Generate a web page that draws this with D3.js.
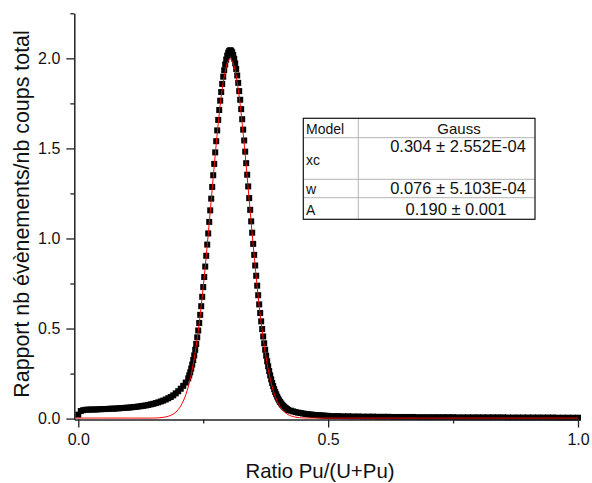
<!DOCTYPE html>
<html>
<head>
<meta charset="utf-8">
<script src="https://cdn.jsdelivr.net/npm/d3@7/dist/d3.min.js"></script>
<style>
  html, body { margin: 0; padding: 0; background: #fff; }
  svg { display: block; font-family: "Liberation Sans", Arial, sans-serif; }
</style>
</head>
<body>
<svg id="chart" width="592" height="483"></svg>
<script>
// ---------- data ----------
const dataX = [
  0.000,0.005,0.010,0.015,0.020,0.025,0.030,0.035,0.040,0.045,0.050,0.055,0.060,0.065,0.070,0.075,0.080,0.085,0.090,0.095,
  0.100,0.105,0.110,0.115,0.120,0.125,0.130,0.135,0.140,0.145,0.150,0.155,0.160,0.165,0.170,0.175,0.180,0.185,0.190,0.195,
  0.200,0.205,0.210,0.215,
  0.220,0.222,0.224,0.226,0.228,0.230,0.232,0.234,0.236,0.238,0.240,0.242,0.244,0.246,0.248,0.250,0.252,0.254,0.256,0.258,
  0.260,0.262,0.264,0.266,0.268,0.270,0.272,0.274,0.276,0.278,0.280,0.282,0.284,0.286,0.288,0.290,0.292,0.294,0.296,0.298,
  0.300,0.302,0.304,0.306,0.308,0.310,0.312,0.314,0.316,0.318,0.320,0.322,0.324,0.326,0.328,0.330,0.332,0.334,0.336,0.338,
  0.340,0.342,0.344,0.346,0.348,0.350,0.352,0.354,0.356,0.358,0.360,0.362,0.364,0.366,0.368,0.370,0.372,0.374,0.376,0.378,
  0.380,0.382,0.384,0.386,0.388,0.390,0.392,0.394,0.396,0.398,0.400,0.402,0.404,0.406,0.408,0.410,0.412,0.414,0.416,0.418,
  0.420,
  0.425,0.430,0.435,0.440,0.445,0.450,0.455,0.460,0.465,0.470,0.475,0.480,0.485,0.490,0.495,0.500,
  0.51,0.52,0.53,0.54,0.55,0.56,0.57,0.58,0.59,0.60,0.61,0.62,0.63,0.64,0.65,0.66,0.67,0.68,0.69,0.70,
  0.71,0.72,0.73,0.74,0.75,0.76,0.77,0.78,0.79,0.80,0.81,0.82,0.83,0.84,0.85,0.86,0.87,0.88,0.89,0.90,
  0.91,0.92,0.93,0.94,0.95,0.96,0.97,0.98,0.99,1.00
];
const dataY = [
  0.022,0.042,0.047,0.049,0.050,0.050,0.051,0.050,0.052,0.052,0.053,0.053,0.054,0.055,0.055,0.056,0.057,0.058,0.059,0.060,
  0.061,0.062,0.064,0.065,0.067,0.069,0.071,0.073,0.076,0.079,0.082,0.086,0.090,0.095,0.100,0.106,0.113,0.120,0.129,0.140,
  0.152,0.166,0.182,0.200,
  0.223,0.240,0.257,0.278,0.300,0.325,0.351,0.382,0.414,0.451,0.489,0.531,0.576,0.624,0.676,0.730,0.786,0.844,0.904,0.966,
  1.028,1.092,1.156,1.221,1.286,1.351,1.414,1.478,1.540,1.600,1.658,1.713,1.765,1.813,1.858,1.898,1.934,1.966,1.993,2.015,
  2.031,2.041,2.045,2.042,2.033,2.018,1.998,1.972,1.941,1.905,1.864,1.818,1.770,1.718,1.662,1.604,1.544,1.482,1.418,1.354,
  1.289,1.224,1.159,1.095,1.032,0.970,0.909,0.850,0.793,0.738,0.685,0.634,0.586,0.540,0.497,0.456,0.418,0.382,0.349,0.318,
  0.290,0.264,0.240,0.218,0.198,0.180,0.163,0.148,0.135,0.122,0.111,0.101,0.092,0.084,0.077,0.071,0.065,0.060,0.056,0.052,
  0.048,
  0.044,0.040,0.036,0.033,0.031,0.028,0.026,0.024,0.023,0.021,0.020,0.019,0.018,0.017,0.016,0.015,
  0.014,0.014,0.013,0.013,0.012,0.012,0.011,0.011,0.011,0.010,0.010,0.010,0.009,0.009,0.009,0.009,0.009,0.008,0.008,0.008,
  0.008,0.008,0.008,0.008,0.008,0.007,0.007,0.007,0.007,0.007,0.007,0.007,0.007,0.007,0.007,0.006,0.006,0.006,0.006,0.006,
  0.006,0.006,0.006,0.006,0.006,0.005,0.005,0.005,0.005,0.005
];

// Gauss fit curve
const fitX = [-0.006,0.05,0.10,0.15,0.16,0.17,0.18,0.19,0.20,0.21,0.22,0.23,0.24,0.25,0.26,0.27,0.28,0.29,0.30,0.304,
  0.31,0.32,0.33,0.34,0.35,0.36,0.37,0.38,0.39,0.40,0.41,0.42,0.43,0.44,0.45,0.50,0.75,1.00];
const fitY = [0.003,0.003,0.003,0.003,0.004,0.007,0.013,0.025,0.050,0.097,0.176,0.302,0.486,0.730,1.023,1.340,1.637,1.867,1.987,1.998,
  1.973,1.829,1.582,1.277,0.962,0.677,0.445,0.273,0.157,0.085,0.044,0.022,0.011,0.006,0.004,0.003,0.003,0.003];

const xMajorTicks = [0.0, 0.5, 1.0];
const xMinorTicks = [0.25, 0.75];
const yMajorTicks = [0.0, 0.5, 1.0, 1.5, 2.0];
const yMinorTicks = [0.25, 0.75, 1.25, 1.75, 2.25];

const tableRows = [
  ["Model", "Gauss"],
  ["xc", "0.304 \u00b1 2.552E-04"],
  ["w", "0.076 \u00b1 5.103E-04"],
  ["A", "0.190 \u00b1 0.001"]
];

const xTitle = "Ratio Pu/(U+Pu)";
const yTitle = "Rapport nb \u00e9v\u00e8nements/nb coups total";

// ---------- layout ----------
(function () {
const svg = d3.select("#chart");
const pL = 74.3, pR = 578, pT = 13.3, pB = 419.5;

const x = d3.scaleLinear().domain([-0.008, 1.0]).range([pL, pR]);
const y = d3.scaleLinear().domain([-0.005, 2.25]).range([pB, pT]);

// data squares
const sq = 6;
const pts = dataX.map((d, i) => [d, dataY[i]]);
svg.append("g").selectAll("rect").data(pts).join("rect")
  .attr("x", d => x(d[0]) - sq / 2)
  .attr("y", d => y(d[1]) - sq / 2)
  .attr("width", sq).attr("height", sq)
  .attr("fill", "#000");

// fit line
const fit = fitX.map((d, i) => [d, fitY[i]]);
svg.append("path").datum(fit)
  .attr("fill", "none")
  .attr("stroke", "#ff0000")
  .attr("stroke-width", 1)
  .attr("d", d3.line().x(d => x(d[0])).y(d => y(d[1])).curve(d3.curveCatmullRom.alpha(0.5)));

// axes
const axisColor = "#222";
const gx = svg.append("g").attr("transform", `translate(0,${pB})`)
  .call(d3.axisBottom(x).tickValues(xMajorTicks).tickSize(8).tickSizeOuter(0).tickPadding(6).tickFormat(d3.format(".1f")));
const gxm = svg.append("g").attr("transform", `translate(0,${pB})`)
  .call(d3.axisBottom(x).tickValues(xMinorTicks).tickSize(4).tickSizeOuter(0).tickFormat(""));
gxm.select(".domain").remove();

const gy = svg.append("g").attr("transform", `translate(${pL},0)`)
  .call(d3.axisLeft(y).tickValues(yMajorTicks).tickSize(8).tickSizeOuter(0).tickPadding(6).tickFormat(d3.format(".1f")));
const gym = svg.append("g").attr("transform", `translate(${pL},0)`)
  .call(d3.axisLeft(y).tickValues(yMinorTicks).tickSize(4).tickSizeOuter(0).tickFormat(""));
gym.select(".domain").remove();

[gx, gxm, gy, gym].forEach(g => {
  g.attr("color", axisColor);
  g.selectAll(".domain").attr("stroke-width", 1.5);
  g.selectAll(".tick line").attr("stroke-width", 1.3);
  g.selectAll(".tick text").attr("font-size", 16).attr("fill", "#111")
    .attr("font-family", "'Liberation Sans', Arial, sans-serif");
});
gx.selectAll(".tick text").attr("dy", "0.71em");

// axis titles
svg.append("text")
  .attr("x", 320).attr("y", 478)
  .attr("text-anchor", "middle")
  .attr("font-size", 20.4).attr("fill", "#111")
  .text(xTitle);
svg.append("text")
  .attr("transform", "translate(28.5,214) rotate(-90)")
  .attr("text-anchor", "middle")
  .attr("font-size", 21.4).attr("fill", "#111")
  .text(yTitle);

// fit table
const tb = svg.append("g");
const tL = 303.3, tR = 535, tT = 118.3, tB = 219.3, colX = 358.3;
const rowLines = [137.7, 179.3, 197.7];
tb.append("rect").attr("x", tL).attr("y", tT).attr("width", tR - tL).attr("height", tB - tT)
  .attr("fill", "#fff").attr("stroke", "none");
rowLines.forEach(ry => tb.append("line").attr("x1", tL).attr("x2", tR).attr("y1", ry).attr("y2", ry)
  .attr("stroke", "#b4b4b4").attr("stroke-width", 1));
tb.append("line").attr("x1", colX).attr("x2", colX).attr("y1", tT).attr("y2", tB)
  .attr("stroke", "#b4b4b4").attr("stroke-width", 1);
tb.append("rect").attr("x", tL).attr("y", tT).attr("width", tR - tL).attr("height", tB - tT)
  .attr("fill", "none").attr("stroke", "#111").attr("stroke-width", 1.2);

const labelBase = [134, 165, 193.8, 214.8];
const valueBase = [133.8, 152.3, 194.2, 215];
const valueCx = [459, 458, 458, 456];
const valueSize = [15, 16.5, 16.5, 16.5];
tableRows.forEach((r, i) => {
  tb.append("text").attr("x", 306).attr("y", labelBase[i])
    .attr("font-size", 14).attr("fill", "#111").text(r[0]);
  tb.append("text").attr("x", valueCx[i]).attr("y", valueBase[i])
    .attr("text-anchor", "middle")
    .attr("font-size", valueSize[i]).attr("fill", "#111").text(r[1]);
});
})();
</script>
</body>
</html>
